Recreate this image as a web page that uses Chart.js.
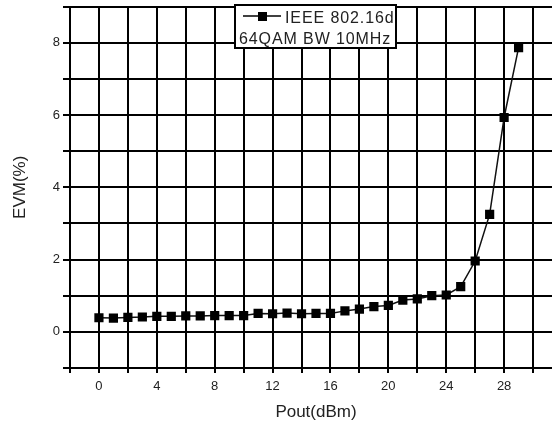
<!DOCTYPE html>
<html>
<head>
<meta charset="utf-8">
<script src="https://cdn.jsdelivr.net/npm/chart.js@4/dist/chart.umd.min.js"></script>
<style>
  html, body { margin: 0; padding: 0; background: #fff; overflow: hidden; }
  canvas { display: block; }
</style>
</head>
<body>
<canvas id="evmChart" width="576" height="425"></canvas>
<script>
// Pout (dBm) and measured EVM (%)
const pout = [0, 1, 2, 3, 4, 5, 6, 7, 8, 9, 10, 11, 12, 13, 14, 15, 16, 17, 18, 19, 20, 21, 22, 23, 24, 25, 26, 27, 28, 29];
const evm = [0.39, 0.38, 0.40, 0.41, 0.43, 0.43, 0.44, 0.44, 0.45, 0.45, 0.45, 0.51, 0.50, 0.52, 0.50, 0.51, 0.51, 0.58, 0.63, 0.70, 0.73, 0.88, 0.91, 1.00, 1.02, 1.25, 1.96, 3.25, 5.93, 7.86];
const legendLines = ["IEEE 802.16d", "64QAM BW 10MHz"];

const fontFamily = "'Liberation Sans', Arial, sans-serif";

// legend drawn as a boxed two-line label, like the original figure
const boxLegend = {
    id: "boxLegend",
    afterDraw(chart) {
        const ctx = chart.ctx;
        ctx.save();
        ctx.fillStyle = "#fff";
        ctx.fillRect(235, 5, 161, 43);
        ctx.strokeStyle = "#000";
        ctx.lineWidth = 2;
        ctx.strokeRect(235, 5, 161, 43);
        ctx.lineWidth = 1.5;
        ctx.beginPath();
        ctx.moveTo(243, 16);
        ctx.lineTo(281, 16);
        ctx.stroke();
        ctx.fillStyle = "#000";
        ctx.fillRect(258, 12, 9, 9);
        ctx.fillStyle = "#222";
        ctx.font = "16px " + fontFamily;
        ctx.letterSpacing = "0.9px";
        ctx.textBaseline = "alphabetic";
        ctx.fillText(legendLines[0], 285, 23);
        ctx.fillText(legendLines[1], 239, 44);
        ctx.restore();
    }
};

const ctx = document.getElementById("evmChart").getContext("2d");
new Chart(ctx, {
    type: "line",
    data: {
        datasets: [{
            label: legendLines.join(" "),
            data: pout.map((x, i) => ({ x: x, y: evm[i] })),
            borderColor: "#111",
            borderWidth: 1.5,
            pointStyle: "rect",
            pointRadius: 6.5,
            pointBackgroundColor: "#000",
            pointBorderColor: "#000",
            pointBorderWidth: 0,
            tension: 0,
        }]
    },
    options: {
        responsive: false,
        animation: false,
        layout: { padding: { top: 5, right: 14, left: 0, bottom: 0 } },
        plugins: { legend: { display: false }, tooltip: { enabled: false } },
        scales: {
            x: {
                type: "linear",
                min: -2,
                max: 32,
                afterFit(scale) {
                    scale.height = 57;
                    scale.paddingLeft = 0;
                    scale.paddingRight = 0;
                },
                grid: { color: "#000", lineWidth: 2, tickLength: 5, tickColor: "#000" },
                border: { color: "#000", width: 2 },
                ticks: {
                    stepSize: 2,
                    autoSkip: false,
                    maxRotation: 0,
                    padding: 6,
                    color: "#222",
                    font: { family: fontFamily, size: 13 },
                    callback: (v) => (v >= 0 && v % 4 === 0 ? String(v) : "")
                },
                title: {
                    display: true,
                    text: "Pout(dBm)",
                    color: "#222",
                    padding: { top: 0, bottom: 2 },
                    font: { family: fontFamily, size: 17 }
                }
            },
            y: {
                min: -1,
                max: 9,
                afterFit(scale) {
                    scale.width = 70;
                    scale.paddingTop = 0;
                    scale.paddingBottom = 0;
                },
                grid: { color: "#000", lineWidth: 2, tickLength: 7, tickColor: "#000" },
                border: { color: "#000", width: 2 },
                ticks: {
                    stepSize: 1,
                    autoSkip: false,
                    padding: 3,
                    color: "#222",
                    font: { family: fontFamily, size: 13 },
                    callback: (v) => (v >= 0 && v % 2 === 0 ? String(v) : "")
                },
                title: {
                    display: true,
                    text: "EVM(%)",
                    color: "#222",
                    padding: { top: 10, bottom: 0 },
                    font: { family: fontFamily, size: 17 }
                }
            }
        }
    },
    plugins: [boxLegend]
});
</script>
</body>
</html>
